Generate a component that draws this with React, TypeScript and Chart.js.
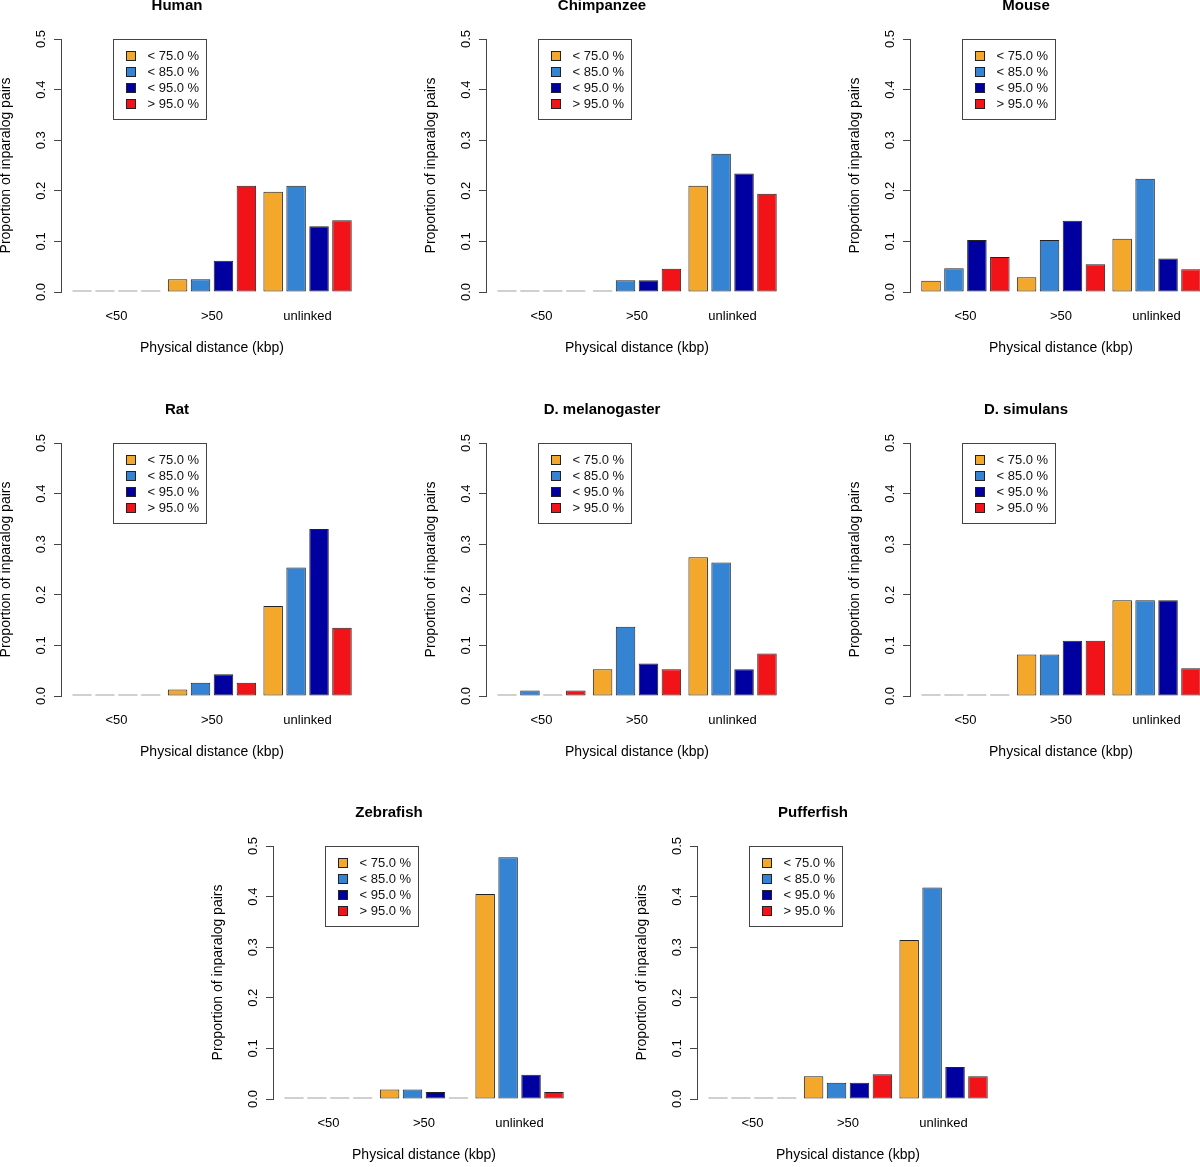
import React, { useEffect, useRef } from "react";
import { Chart, registerables } from "chart.js";

Chart.register(...registerables);

// ---------- data ----------
const categories = ["<50", ">50", "unlinked"];
const seriesLabels = ["< 75.0 %", "< 85.0 %", "< 95.0 %", "> 95.0 %"];
const seriesColors = ["#F4A82B", "#3484D3", "#0000A0", "#F21318"];
const yTickValues = [0, 0.1, 0.2, 0.3, 0.4, 0.5];
const xAxisTitle = "Physical distance (kbp)";
const yAxisTitle = "Proportion of inparalog pairs";

// rows = series (< 75, < 85, < 95, > 95 %); columns = categories (<50, >50, unlinked)
const human = [
  [0, 0.025, 0.198],
  [0, 0.025, 0.21],
  [0, 0.062, 0.13],
  [0, 0.21, 0.142],
];
const chimpanzee = [
  [0, 0, 0.21],
  [0, 0.023, 0.273],
  [0, 0.023, 0.234],
  [0, 0.046, 0.194],
];
const mouse = [
  [0.022, 0.029, 0.105],
  [0.047, 0.103, 0.224],
  [0.103, 0.141, 0.066],
  [0.069, 0.055, 0.045],
];
const rat = [
  [0, 0.013, 0.178],
  [0, 0.026, 0.254],
  [0, 0.043, 0.33],
  [0, 0.026, 0.135],
];
const dMelanogaster = [
  [0, 0.053, 0.274],
  [0.011, 0.137, 0.264],
  [0, 0.064, 0.053],
  [0.011, 0.053, 0.084],
];
const dSimulans = [
  [0, 0.082, 0.189],
  [0, 0.082, 0.189],
  [0, 0.109, 0.189],
  [0, 0.109, 0.055],
];
const zebrafish = [
  [0, 0.019, 0.405],
  [0, 0.019, 0.478],
  [0, 0.014, 0.048],
  [0, 0, 0.014],
];
const pufferfish = [
  [0, 0.045, 0.314],
  [0, 0.032, 0.418],
  [0, 0.032, 0.063],
  [0, 0.049, 0.045],
];

const panelTitles = [
  "Human",
  "Chimpanzee",
  "Mouse",
  "Rat",
  "D. melanogaster",
  "D. simulans",
  "Zebrafish",
  "Pufferfish",
];
const panelValues = [human, chimpanzee, mouse, rat, dMelanogaster, dSimulans, zebrafish, pufferfish];

// ---------- layout ----------
const FONT = "'Liberation Sans', Arial, Helvetica, sans-serif";
const CANVAS_W = 442;
const CANVAS_H = 373;
const LEFT_SPACE = 70;
// [axis x, chart top] for each panel
const panelPositions = [
  [60.5, 39],
  [486, 39],
  [910, 39],
  [60.5, 442.7],
  [486, 442.7],
  [910, 442.7],
  [272.7, 846],
  [697.3, 846],
];

const legendBoxPlugin = {
  id: "legendBox",
  afterDraw(chart: any) {
    const { ctx, chartArea } = chart;
    const x0 = Math.round(chartArea.left + 52) + 0.5;
    const y0 = Math.round(chartArea.top) + 0.5;
    const w = 93;
    const h = 80;
    ctx.save();
    ctx.lineWidth = 1;
    ctx.strokeStyle = "#444";
    ctx.strokeRect(x0, y0, w, h);
    ctx.font = `13px ${FONT}`;
    ctx.textBaseline = "middle";
    ctx.textAlign = "left";
    chart.data.datasets.forEach((ds: any, i: number) => {
      const cy = Math.round(y0 + 16.2 * (i + 1));
      ctx.fillStyle = ds.backgroundColor;
      ctx.fillRect(Math.round(x0 + 12), cy - 5, 10, 10);
      ctx.strokeStyle = "#222";
      ctx.strokeRect(Math.round(x0 + 12) + 0.5, cy - 4.5, 9, 9);
      ctx.fillStyle = "#111";
      ctx.fillText(ds.label, x0 + 34, cy + 0.5);
    });
    ctx.restore();
  },
};

function Panel({ title, values, axisX, chartTop }: any) {
  const ref = useRef<HTMLCanvasElement | null>(null);

  useEffect(() => {
    if (!ref.current) return;
    const datasets = seriesLabels.map((label, s) => ({
      label,
      data: categories.map((_, c) => ({ x: c + 1, y: values[s][c] })),
      backgroundColor: seriesColors[s],
      borderColor: (ctx: any) => (ctx.raw && ctx.raw.y === 0 ? "#444" : "#222"),
      borderWidth: 1,
      borderSkipped: false,
      minBarLength: 1.5,
      barPercentage: 0.85,
      categoryPercentage: 0.96,
    }));

    const chart = new Chart(ref.current, {
      type: "bar",
      data: { datasets },
      plugins: [legendBoxPlugin],
      options: {
        animation: false,
        responsive: false,
        devicePixelRatio: 1,
        layout: { padding: { left: 0, right: CANVAS_W - LEFT_SPACE - 302, top: 0, bottom: 0 } },
        plugins: {
          legend: { display: false },
          tooltip: { enabled: false },
          title: {
            display: true,
            text: title,
            color: "#000",
            font: { family: FONT, size: 15, weight: "bold" },
            padding: { top: 8, bottom: 24 },
          },
        },
        scales: {
          x: {
            type: "linear",
            position: "bottom",
            min: 0.42,
            max: 3.58,
            offset: false,
            grid: { display: false, drawTicks: false },
            border: { display: false },
            afterBuildTicks: (axis: any) => {
              axis.ticks = categories.map((_, i) => ({ value: i + 1 }));
            },
            afterFit: (axis: any) => {
              axis.height = 70;
            },
            ticks: {
              autoSkip: false,
              minRotation: 0,
              maxRotation: 0,
              padding: 16.6,
              color: "#000",
              font: { family: FONT, size: 13 },
              callback: (_v: any, i: number) => categories[i],
            },
            title: {
              display: true,
              text: xAxisTitle,
              color: "#000",
              font: { family: FONT, size: 14 },
              padding: { top: 0, bottom: 5.6 },
            },
          },
          y: {
            type: "linear",
            min: 0,
            max: 0.5,
            grid: {
              display: true,
              drawOnChartArea: false,
              drawTicks: true,
              tickLength: 7,
              color: "#444",
              lineWidth: 1,
            },
            border: { display: true, color: "#444", width: 1 },
            afterBuildTicks: (axis: any) => {
              axis.ticks = yTickValues.map((v) => ({ value: v }));
            },
            afterFit: (axis: any) => {
              axis.width = LEFT_SPACE;
            },
            ticks: {
              minRotation: 90,
              maxRotation: 90,
              crossAlign: "center",
              padding: 4,
              color: "#000",
              font: { family: FONT, size: 13 },
              callback: (v: any) => Number(v).toFixed(1),
            },
            title: {
              display: true,
              text: yAxisTitle,
              color: "#000",
              font: { family: FONT, size: 14 },
              padding: { top: 6.5, bottom: 0 },
            },
          },
        },
      } as any,
    });
    return () => chart.destroy();
  }, [title, values]);

  return (
    <canvas
      ref={ref}
      width={CANVAS_W}
      height={CANVAS_H}
      style={{
        position: "absolute",
        left: Math.round(axisX - LEFT_SPACE),
        top: Math.round(chartTop - 50),
        width: CANVAS_W,
        height: CANVAS_H,
      }}
    />
  );
}

export default function App() {
  return (
    <div
      style={{
        position: "absolute",
        left: 0,
        top: 0,
        width: 1200,
        height: 1167,
        overflow: "hidden",
        background: "#fff",
      }}
    >
      {panelTitles.map((t, i) => (
        <Panel
          key={t}
          title={t}
          values={panelValues[i]}
          axisX={panelPositions[i][0]}
          chartTop={panelPositions[i][1]}
        />
      ))}
    </div>
  );
}
